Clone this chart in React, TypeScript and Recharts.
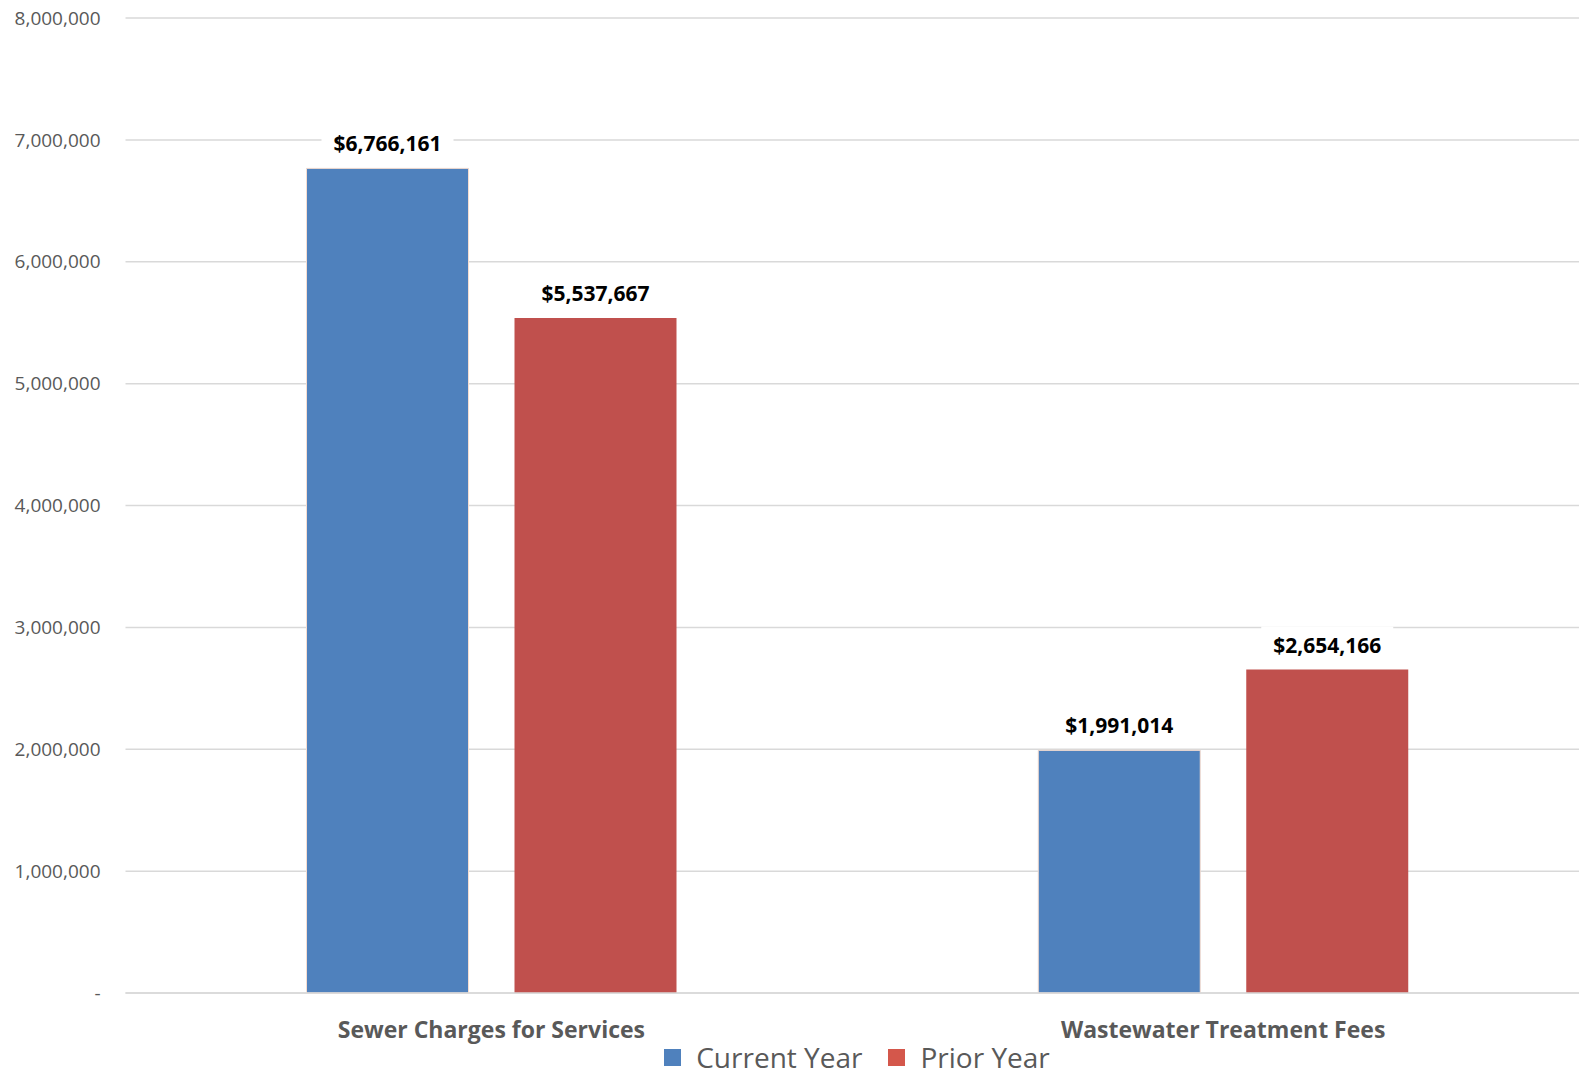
import React from 'react';
import {
  BarChart,
  Bar,
  XAxis,
  YAxis,
  CartesianGrid,
  Legend,
  LabelList,
} from 'recharts';

const categories = ['Sewer Charges for Services', 'Wastewater Treatment Fees'];
const currentYear = [6766161, 1991014];
const priorYear = [5537667, 2654166];
const yTicks = [0, 1000000, 2000000, 3000000, 4000000, 5000000, 6000000, 7000000, 8000000];

const data = categories.map((name, i) => ({
  name,
  current: currentYear[i],
  prior: priorYear[i],
}));

const FONT = '"Open Sans", "Noto Sans", sans-serif';
const GRAY = '#595959';

const fmtTick = (v: number) => (v === 0 ? '-' : v.toLocaleString('en-US'));

// data label with a white box behind it, so the gridline is hidden
const ValueLabel = (props: any) => {
  const { x, y, width, value } = props;
  const cx = x + width / 2;
  const text = '$' + Number(value).toLocaleString('en-US');
  return (
    <g>
      <rect x={cx - 66} y={y - 43} width={132} height={36} fill="#fff" />
      <text
        x={cx}
        y={y - 25}
        textAnchor="middle"
        dominantBaseline="central"
        fontFamily={FONT}
        fontWeight="bold"
        fontSize={21}
        fill="#000"
      >
        {text}
      </text>
    </g>
  );
};

const CustomLegend = () => {
  const items = [
    { label: 'Current Year', color: '#4F81BD' },
    { label: 'Prior Year', color: '#D4574B' },
  ];
  return (
    <div style={{ display: 'flex', justifyContent: 'center', gap: 26 }}>
      {items.map((it) => (
        <div key={it.label} style={{ display: 'flex', alignItems: 'center', gap: 15 }}>
          <div style={{ width: 17, height: 17, backgroundColor: it.color }} />
          <span style={{ fontFamily: FONT, fontSize: 28, color: GRAY, lineHeight: '34px' }}>
            {it.label}
          </span>
        </div>
      ))}
    </div>
  );
};

export default function App() {
  return (
    <div
      style={{
        position: 'absolute',
        left: 0,
        top: 0,
        width: 1579,
        height: 1075,
        overflow: 'hidden',
        background: '#fff',
      }}
    >
      <BarChart
        width={1600}
        height={1075}
        data={data}
        margin={{ top: 18, right: 11, left: 0, bottom: 0 }}
        barSize={162}
        barGap={46}
      >
        <CartesianGrid vertical={false} stroke="#D9D9D9" strokeWidth={1.5} />
        <YAxis
          width={125.5}
          domain={[0, 8000000]}
          ticks={yTicks}
          interval={0}
          tickFormatter={fmtTick}
          axisLine={false}
          tickLine={false}
          tickMargin={19}
          tick={{ fontFamily: FONT, fontSize: 19, fill: GRAY }}
        />
        <XAxis
          dataKey="name"
          height={82}
          axisLine={{ stroke: '#D9D9D9', strokeWidth: 1.5 }}
          tickLine={false}
          tickMargin={23}
          tick={{ fontFamily: FONT, fontSize: 23, fontWeight: 'bold', fill: GRAY }}
        />
        <Legend
          layout="horizontal"
          verticalAlign="middle"
          align="center"
          content={<CustomLegend />}
          wrapperStyle={{ top: 1040, left: 0, width: 1714, height: 34 }}
        />
        <Bar dataKey="current" name="Current Year" fill="#4F81BD" stroke="#F6DDD0" strokeWidth={1} isAnimationActive={false}>
          <LabelList dataKey="current" content={<ValueLabel />} />
        </Bar>
        <Bar dataKey="prior" name="Prior Year" fill="#C0504D" isAnimationActive={false}>
          <LabelList dataKey="prior" content={<ValueLabel />} />
        </Bar>
      </BarChart>
    </div>
  );
}
